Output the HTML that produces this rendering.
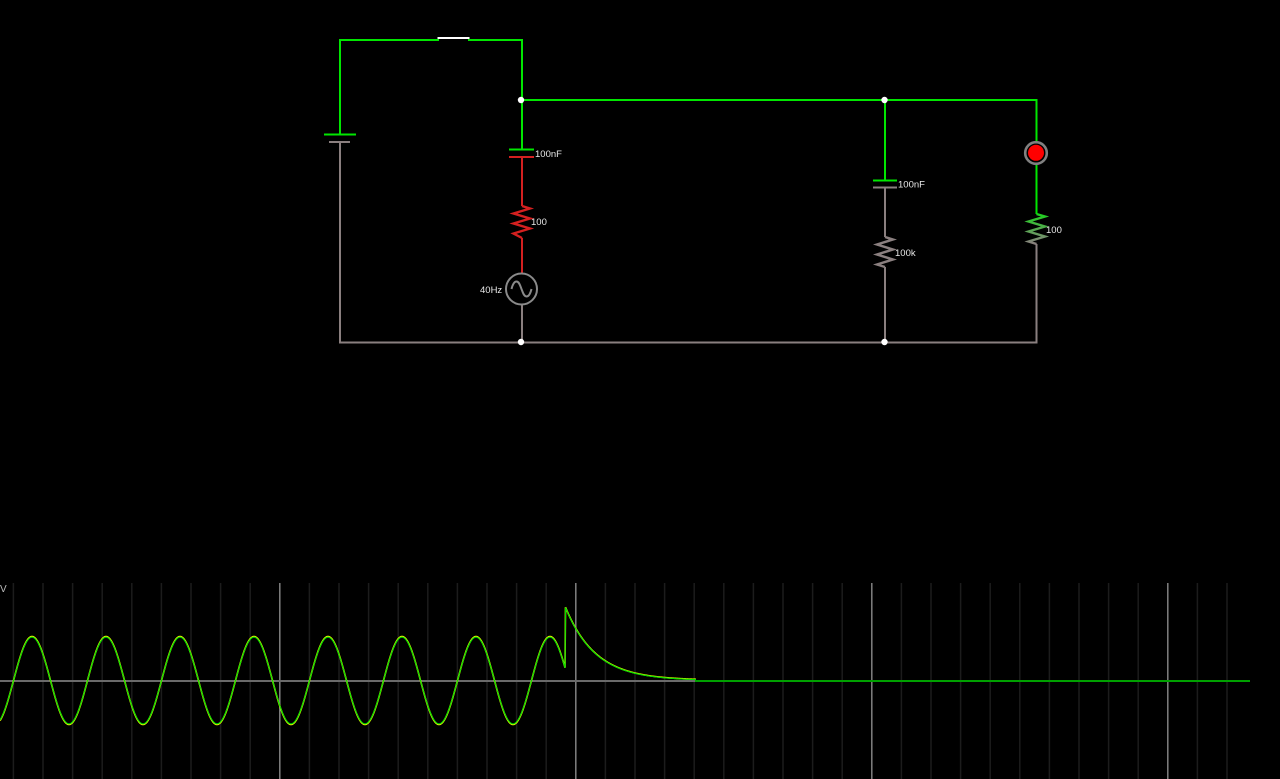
<!DOCTYPE html>
<html><head><meta charset="utf-8"><style>
html,body{margin:0;padding:0;background:#000;width:1280px;height:779px;overflow:hidden}
svg{display:block}
text{font-family:"Liberation Sans",sans-serif;font-size:9.5px;fill:#e8e8e8}
</style></head><body>
<svg width="1280" height="779" viewBox="0 0 1280 779" xmlns="http://www.w3.org/2000/svg">
<defs>
<linearGradient id="rg" gradientUnits="userSpaceOnUse" x1="0" y1="214" x2="0" y2="244"><stop offset="0" stop-color="#1fd01f"/><stop offset="1" stop-color="#8a7f7f"/></linearGradient>
</defs>
<rect width="1280" height="779" fill="#000"/>
<g fill="none" stroke-width="2">
<g stroke="#00e600">
<path d="M340 134V40H439M468 40H522V150"/>
<path d="M522 100H1036.500V142"/>
<path d="M885 100V180"/>
<path d="M1036.500 163V214"/>
<path d="M324 134.500H356" />
<path d="M509 149.500H534"/>
<path d="M873 180.500H897"/>
</g>
<path d="M437.500 38H469.500" stroke="#fff"/>
<g stroke="#8a7f7f">
<path d="M329 142H350M340 142V342.500H1036.500V244"/>
<path d="M522 305V342"/>
<path d="M873 187.500H897M885 187V237M885 267V342"/>
<path d="M885 237L893 239.500L877 244.500L893 249.500L877 254.500L893 259.500L877 264.500L885 267" stroke-width="2.400"/>
</g>
<g stroke="#d42020">
<path d="M509 157H534M522 157V206M522 238V273"/>
<path d="M522 206L530 208.500L513.500 213.500L530 218.500L513.500 223.500L530 228.500L513.500 233.500L522 238" stroke-width="2.400"/>
</g>
<path d="M1036.500 214L1045 216.500L1028.500 221.500L1045 226.500L1028.500 231.500L1045 236.500L1028.500 241.500L1036.500 244" stroke="url(#rg)" stroke-width="2.400"/>
<circle cx="521.500" cy="289" r="15.500" stroke="#8a8a8a"/>
<path d="M511.500 289C513 283 515 281.500 516.500 281.500C519 281.500 520 285 521.500 289C523 293 524 296.500 526.500 296.500C528 296.500 530 295 531.500 289" stroke="#8a8a8a"/>
</g>
<circle cx="1036" cy="153" r="10.800" fill="#000" stroke="#808080" stroke-width="2.600"/>
<circle cx="1036" cy="152.800" r="8" fill="#ff0000"/>
<g fill="#fff">
<circle cx="521" cy="100" r="3.200"/><circle cx="884.500" cy="100" r="3.200"/>
<circle cx="521" cy="342" r="3.200"/><circle cx="884.500" cy="342" r="3.200"/>
</g>
<text x="535" y="157">100nF</text>
<text x="531" y="225">100</text>
<text x="480" y="293">40Hz</text>
<text x="898" y="187.500">100nF</text>
<text x="895" y="256">100k</text>
<text x="1046" y="233">100</text>
<g id="grid"></g>
<rect x="0" y="680" width="1250" height="2" fill="#6a6a6a"/>
<rect x="695" y="680" width="555" height="2" fill="#00a000"/>
<polyline id="ty" fill="none" stroke="#e8f000" stroke-width="1.600"/>
<polyline id="tg" fill="none" stroke="#00e000" stroke-width="1.100"/>
<text x="0" y="592" style="font-size:10px;fill:#bbb">V</text>
</svg>
<script>
(function(){
var ns="http://www.w3.org/2000/svg",g=document.getElementById("grid");
for(var i=0;i<42;i++){
 var x=13.4+29.6*i; if(x>1250)break;
 var major=(i%10)==9;
 var r=document.createElementNS(ns,"rect");
 r.setAttribute("x",(x-0.75).toFixed(2));r.setAttribute("y",583);r.setAttribute("width",1.5);r.setAttribute("height",196);
 r.setAttribute("fill",major?"#808080":"#1c1c1c");g.appendChild(r);
}
function pts(a,off){
 var p=[];
 for(var x=0;x<=565;x+=0.5){p.push(x+","+(680.5-a*Math.cos((x-32)/74*2*Math.PI)).toFixed(2));}
 p.push("565.5,"+(607.5-off));
 for(var x=566;x<=696;x+=0.5){p.push(x+","+(680.5-off-73*Math.exp(-(x-565.5)/30)).toFixed(2));}
 return p.join(" ");
}
document.getElementById("ty").setAttribute("points",pts(44,0.3));
document.getElementById("tg").setAttribute("points",pts(43.3,0));
})();
</script>
</body></html>
